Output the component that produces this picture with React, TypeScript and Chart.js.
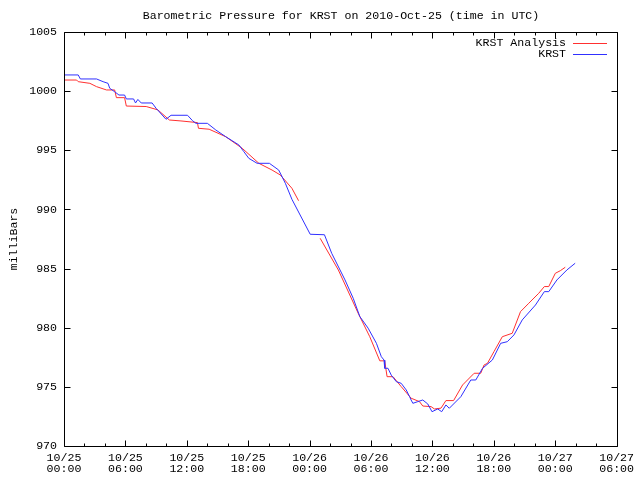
import React, { useEffect, useRef } from "react";
import { Chart, registerables } from "chart.js";

Chart.register(...registerables);

const TITLE = "Barometric Pressure for KRST on 2010-Oct-25 (time in UTC)";
const Y_LABEL = "milliBars";
const SERIES_NAMES = ["KRST Analysis", "KRST"];
const SERIES_COLORS = ["rgb(255,48,48)", "rgb(48,48,255)"];

// x axis: hours since 2010-10-25 00:00 UTC
const X_MIN = 0;
const X_MAX = 54;
const X_MAJOR = 6;
const X_MINOR = 2;
const X_TICK_DATES = ["10/25", "10/25", "10/25", "10/25", "10/26", "10/26", "10/26", "10/26", "10/27", "10/27"];
const X_TICK_TIMES = ["00:00", "06:00", "12:00", "18:00", "00:00", "06:00", "12:00", "18:00", "00:00", "06:00"];

const Y_MIN = 970;
const Y_MAX = 1005;
const Y_STEP = 5;

// KRST Analysis (null marks the gap between analysis runs)
const analysisHours = [
  0, 1.23, 1.39, 2.53, 3.18, 4.15, 4.95, 5.12, 5.92, 6.09, 8.03, 9.16, 10.3, 11.43, 13.04, 13.14, 14.18,
  15.8, 17.41, 19.04, 20.33, 21.14, 22.27, 22.92, 24.0, 25.03, 26.81, 28.75, 29.88, 30.86, 31.34, 31.57,
  32.15, 32.95, 33.92, 34.74, 35.06, 35.87, 36.2, 36.84, 37.32, 38.07, 38.95, 40.08, 40.72, 41.05, 41.38,
  42.03, 42.83, 43.8, 44.61, 45.42, 46.39, 46.94, 47.37, 48.01, 48.5, 48.98,
];
const analysisMb = [
  1000.94, 1000.94, 1000.8, 1000.66, 1000.38, 1000.1, 1000.1, 999.45, 999.45, 998.74, 998.7, 998.42, 997.56,
  997.48, 997.34, 996.86, 996.78, 996.15, 995.17, 993.9, 993.33, 992.91, 991.79, 990.74, null, 987.56,
  984.88, 981.22, 979.24, 977.2, 977.2, 975.86, 975.86, 975.02, 974.04, 973.75, 973.38, 973.33, 973.13,
  973.2, 973.84, 973.84, 975.16, 976.15, 976.15, 976.85, 976.99, 978.0, 979.24, 979.53, 981.36, 982.07,
  982.91, 983.48, 983.48, 984.6, 984.82, 985.11,
];

// KRST observations
const krstHours = [
  0, 1.39, 1.6, 3.18, 3.82, 4.3, 4.47, 4.95, 5.37, 5.92, 6.09, 6.8, 6.99, 7.22, 7.55, 8.61, 9.0, 9.97, 10.46,
  12.07, 12.56, 12.89, 14.01, 14.83, 15.8, 17.09, 17.58, 18.06, 18.87, 20.07, 20.98, 21.63, 22.27, 24.06,
  25.45, 26.16, 27.46, 28.26, 28.91, 29.72, 30.53, 31.01, 31.27, 31.34, 31.66, 31.98, 32.47, 32.95, 33.44,
  33.77, 33.92, 34.09, 34.57, 35.06, 35.55, 35.96, 36.52, 36.91, 37.32, 37.65, 38.78, 39.75, 40.24, 40.9,
  41.86, 42.67, 43.32, 43.97, 44.78, 46.07, 46.94, 47.37, 48.17, 49.14, 49.95,
];
const krstMb = [
  1001.37, 1001.37, 1001.03, 1001.03, 1000.8, 1000.66, 1000.24, 999.95, 999.67, 999.67, 999.34, 999.34,
  999.0, 999.3, 999.0, 999.0, 998.55, 997.62, 997.96, 997.96, 997.5, 997.28, 997.28, 996.72, 996.15,
  995.45, 994.88, 994.32, 993.9, 993.9, 993.33, 992.21, 990.86, 987.9, 987.86, 986.29, 984.04, 982.49,
  980.94, 979.96, 978.68, 977.55, 977.27, 976.57, 976.57, 975.99, 975.44, 975.3, 974.74, 974.17, 973.89,
  973.61, 973.75, 973.89, 973.55, 972.9, 973.13, 972.9, 973.47, 973.19, 974.17, 975.58, 975.58, 976.57,
  977.27, 978.68, 978.82, 979.39, 980.66, 981.92, 983.05, 983.05, 984.04, 984.88, 985.45,
];

const FONT_FAMILY = "'Liberation Mono', 'DejaVu Sans Mono', monospace";
const FONT_SIZE = 11.6;

const gnuplotFrame = {
  id: "gnuplotFrame",
  afterDraw(chart: any) {
    const { ctx, chartArea: a, scales } = chart;
    const xs = scales.x;
    const ys = scales.y;
    ctx.save();
    ctx.strokeStyle = "#000";
    ctx.lineWidth = 1;
    ctx.beginPath();
    const L = Math.round(a.left) + 0.5;
    const R = Math.round(a.right) + 0.5;
    const T = Math.round(a.top) + 0.5;
    const B = Math.round(a.bottom) + 0.5;
    ctx.rect(L, T, R - L, B - T);
    for (let h = X_MIN; h <= X_MAX; h += X_MINOR) {
      const px = Math.round(xs.getPixelForValue(h)) + 0.5;
      const len = h % X_MAJOR === 0 ? 6 : 3;
      ctx.moveTo(px, B);
      ctx.lineTo(px, B - len);
      ctx.moveTo(px, T);
      ctx.lineTo(px, T + len);
    }
    for (let v = Y_MIN; v <= Y_MAX; v += Y_STEP) {
      const py = Math.round(ys.getPixelForValue(v)) + 0.5;
      ctx.moveTo(L, py);
      ctx.lineTo(L + 6, py);
      ctx.moveTo(R, py);
      ctx.lineTo(R - 6, py);
    }
    ctx.stroke();

    ctx.fillStyle = "#000";
    ctx.font = `${FONT_SIZE}px ${FONT_FAMILY}`;
    ctx.textBaseline = "middle";
    ctx.textAlign = "center";
    ctx.fillText(TITLE, 341, 16);

    // legend (order as in reference)
    const legendOrder = [0, 1];
    legendOrder.forEach((i, k) => {
      const ds = chart.data.datasets[i];
      const yy = 43 + k * 11;
      ctx.textAlign = "right";
      ctx.fillStyle = "#000";
      ctx.fillText(ds.label, 566, yy);
      ctx.beginPath();
      ctx.strokeStyle = ds.borderColor;
      ctx.moveTo(573, yy + 0.5);
      ctx.lineTo(607, yy + 0.5);
      ctx.stroke();
    });

    ctx.save();
    ctx.fillStyle = "#000";
    ctx.font = `${FONT_SIZE}px ${FONT_FAMILY}`;
    ctx.translate(14, 239);
    ctx.rotate(-Math.PI / 2);
    ctx.textAlign = "center";
    ctx.textBaseline = "middle";
    ctx.fillText(Y_LABEL, 0, 0);
    ctx.restore();
    ctx.restore();
  },
};

export default function App() {
  const ref = useRef<HTMLCanvasElement>(null);

  useEffect(() => {
    if (!ref.current) return;
    const toPoints = (xs: number[], ys: (number | null)[]) => xs.map((x, i) => ({ x, y: ys[i] }));
    const chart = new Chart(ref.current, {
      type: "line",
      data: {
        datasets: [
          {
            label: SERIES_NAMES[0],
            data: toPoints(analysisHours, analysisMb) as any,
            borderColor: SERIES_COLORS[0],
            borderWidth: 1,
            pointRadius: 0,
            tension: 0,
            spanGaps: false,
            order: 1,
          },
          {
            label: SERIES_NAMES[1],
            data: toPoints(krstHours, krstMb) as any,
            borderColor: SERIES_COLORS[1],
            borderWidth: 1,
            pointRadius: 0,
            tension: 0,
            order: 0,
          },
        ],
      },
      options: {
        responsive: false,
        animation: false,
        devicePixelRatio: 1,
        layout: { padding: { top: 32, right: 20, left: 0, bottom: 0 } },
        plugins: {
          legend: { display: false },
          title: { display: false },
          tooltip: { enabled: false },
        },
        scales: {
          x: {
            type: "linear",
            min: X_MIN,
            max: X_MAX,
            grid: { display: false, drawTicks: false },
            border: { display: false },
            ticks: {
              stepSize: X_MAJOR,
              autoSkip: false,
              maxRotation: 0,
              padding: 6,
              color: "#000",
              font: { family: FONT_FAMILY, size: FONT_SIZE, lineHeight: 11 / FONT_SIZE },
              callback: (v: any) => {
                const i = Math.round(Number(v) / X_MAJOR);
                return [X_TICK_DATES[i], X_TICK_TIMES[i]];
              },
            },
            afterFit: (s: any) => {
              s.height = 34;
            },
          },
          y: {
            min: Y_MIN,
            max: Y_MAX,
            grid: { display: false, drawTicks: false },
            border: { display: false },
            ticks: {
              stepSize: Y_STEP,
              padding: 7,
              color: "#000",
              font: { family: FONT_FAMILY, size: FONT_SIZE },
              callback: (v: any) => String(v),
            },
            afterFit: (s: any) => {
              s.width = 64;
            },
          },
        },
      },
      plugins: [gnuplotFrame],
    });
    return () => chart.destroy();
  }, []);

  return (
    <canvas
      ref={ref}
      width={640}
      height={480}
      style={{ position: "absolute", left: 0, top: 0, width: 640, height: 480 }}
    />
  );
}
